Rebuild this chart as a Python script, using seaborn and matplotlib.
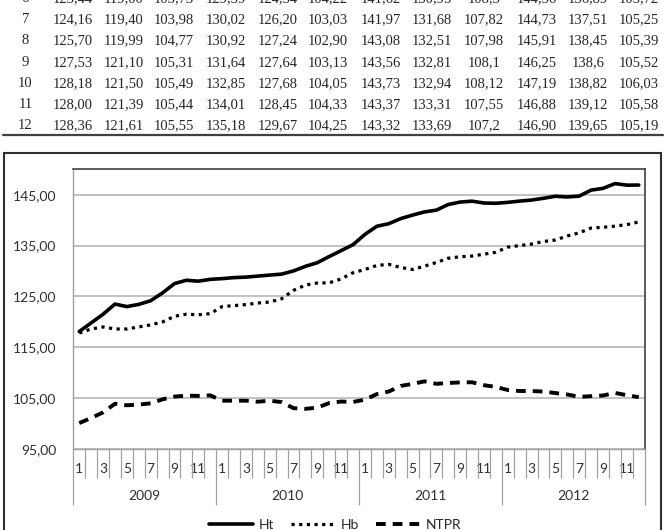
import numpy as np
import pandas as pd
import seaborn as sns
import matplotlib.pyplot as plt
from matplotlib.patches import Rectangle

# data (months 1-5, 6-12 from the table)
years = [2009, 2010, 2011, 2012]
months = list(range(1, 13))

ht_2009 = [118.1, 119.8, 121.5, 123.5, 123.0, 123.44, 124.16, 125.70, 127.53, 128.18, 128.00, 128.36]
hb_2009 = [117.8, 118.6, 119.0, 118.6, 118.6, 119.00, 119.40, 119.99, 121.10, 121.50, 121.39, 121.61]
ntpr_2009 = [100.1, 101.1, 102.2, 103.9, 103.6, 103.73, 103.98, 104.77, 105.31, 105.49, 105.44, 105.55]

ht_2010 = [128.5, 128.7, 128.8, 129.0, 129.2, 129.39, 130.02, 130.92, 131.64, 132.85, 134.01, 135.18]
hb_2010 = [123.0, 123.2, 123.4, 123.7, 123.9, 124.54, 126.20, 127.24, 127.64, 127.68, 128.45, 129.67]
ntpr_2010 = [104.5, 104.5, 104.5, 104.3, 104.5, 104.22, 103.03, 102.90, 103.13, 104.05, 104.33, 104.25]

ht_2011 = [137.2, 138.8, 139.3, 140.3, 141.0, 141.62, 141.97, 143.08, 143.56, 143.73, 143.37, 143.32]
hb_2011 = [130.3, 131.1, 131.3, 130.7, 130.3, 130.95, 131.68, 132.51, 132.81, 132.94, 133.31, 133.69]
ntpr_2011 = [104.7, 105.8, 106.3, 107.4, 107.8, 108.3, 107.82, 107.98, 108.1, 108.12, 107.55, 107.2]

ht_2012 = [143.5, 143.75, 143.95, 144.3, 144.7, 144.56, 144.73, 145.91, 146.25, 147.19, 146.88, 146.90]
hb_2012 = [134.7, 135.0, 135.3, 135.8, 136.1, 136.89, 137.51, 138.45, 138.6, 138.82, 139.12, 139.65]
ntpr_2012 = [106.6, 106.4, 106.4, 106.3, 106.0, 105.72, 105.25, 105.39, 105.52, 106.03, 105.58, 105.19]

ht = {2009: ht_2009, 2010: ht_2010, 2011: ht_2011, 2012: ht_2012}
hb = {2009: hb_2009, 2010: hb_2010, 2011: hb_2011, 2012: hb_2012}
ntpr = {2009: ntpr_2009, 2010: ntpr_2010, 2011: ntpr_2011, 2012: ntpr_2012}

# cells printed with a single decimal in the table
one_decimal = {(2011, 'NTPR', 6), (2011, 'NTPR', 9), (2011, 'NTPR', 12), (2012, 'Hb', 9)}

sns.set_theme(style='white')
plt.rcParams['font.family'] = ['Lato', 'DejaVu Sans']

fig = plt.figure(figsize=(6.66, 5.30), dpi=100)
W, H = 666, 530

# ---- table (only the bottom rows are visible) ----
col_x = [73, 124, 174, 226, 278, 328, 381, 432, 484, 537, 588, 639]
row_y = {6: -1.7, 7: 19.3, 8: 41.0, 9: 62.3, 10: 83.3, 11: 104.3, 12: 125.7}
serif = ['Liberation Serif', 'DejaVu Serif']


def fmt(v, key):
    if key in one_decimal:
        return f"{v:.1f}".replace('.', ',')
    return f"{v:.2f}".replace('.', ',')


for m in range(6, 13):
    y = 1 - row_y[m] / H
    fig.text(25.5 / W, y, str(m), ha='center', va='center', fontsize=10.5, family=serif)
    cells = []
    for yr in years:
        cells.append(fmt(ht[yr][m - 1], (yr, 'Ht', m)))
        cells.append(fmt(hb[yr][m - 1], (yr, 'Hb', m)))
        cells.append(fmt(ntpr[yr][m - 1], (yr, 'NTPR', m)))
    for cx, s in zip(col_x, cells):
        fig.text(cx / W, y, s, ha='center', va='center', fontsize=10.5, family=serif)

fig.add_artist(plt.Line2D([3 / W, 663 / W], [1 - 135 / H, 1 - 135 / H],
                          color='#404040', lw=1.6, transform=fig.transFigure))

# ---- chart frame ----
fig.patches.append(Rectangle((4 / W, -0.02), 657 / W, (530 - 153) / H + 0.02,
                             fill=False, edgecolor='#303030', lw=1.5,
                             transform=fig.transFigure, figure=fig))

left, right, top, bottom = 73.3, 644.7, 169.3, 449
ax = fig.add_axes([left / W, 1 - bottom / H, (right - left) / W, (bottom - top) / H])

rows = []
for yr in years:
    for i, m in enumerate(months):
        rows.append({'t': (yr - 2009) * 12 + i, 'Ht': ht[yr][i], 'Hb': hb[yr][i], 'NTPR': ntpr[yr][i]})
df = pd.DataFrame(rows)

sns.lineplot(data=df, x='t', y='Ht', ax=ax, color='black', lw=2.6, label='Ht')
sns.lineplot(data=df, x='t', y='Hb', ax=ax, color='black', lw=2.3,
             linestyle=(0, (1, 1.4)), label='Hb')
sns.lineplot(data=df, x='t', y='NTPR', ax=ax, color='black', lw=2.8,
             linestyle=(0, (2.5, 1.8)), label='NTPR')
handles = ax.get_lines()[:3]
ax.get_legend().remove()

ax.set_ylim(95, 150)
ax.set_yticks([95, 105, 115, 125, 135, 145])
ax.set_yticklabels([f"{v:.2f}".replace('.', ',') for v in [95, 105, 115, 125, 135, 145]])
ax.yaxis.grid(True, color='#bdbdbd', lw=1.3)
ax.set_xlim(-0.5, 47.5)
ax.set_xlabel('')
ax.set_ylabel('')

ax.set_xticks(range(48))
ax.set_xticklabels([str(m) if m % 2 == 1 else '' for m in months * 4])
ax.tick_params(axis='x', length=0, pad=10, labelsize=10, colors='#303030')
ax.tick_params(axis='y', length=0, pad=12, labelsize=10, colors='#303030')

for side in ['top', 'right']:
    ax.spines[side].set_color('#404040')
    ax.spines[side].set_linewidth(1.2)
for side in ['left', 'bottom']:
    ax.spines[side].set_color('#a0a0a0')
    ax.spines[side].set_linewidth(1.0)

# category separators below the axis
trans = ax.get_xaxis_transform()
month_b = [i + 0.5 for i in range(47) if (i + 1) % 12 != 0]
year_b = [-0.5, 11.5, 23.5, 35.5, 47.5]
ax.vlines(month_b, -0.104, 0, transform=trans, clip_on=False, color='#a0a0a0', lw=0.9)
ax.vlines(year_b, -0.2, 0, transform=trans, clip_on=False, color='#a0a0a0', lw=0.9)
for k, yr in enumerate(years):
    ax.text(k * 12 + 5.5, -0.168, str(yr), transform=trans, ha='center', va='center',
            fontsize=10, color='#303030')

fig.legend(handles=handles, labels=['Ht', 'Hb', 'NTPR'], loc='center',
           bbox_to_anchor=(0.503, 0.009), ncol=3, frameon=False, fontsize=10,
           handlelength=3.2, columnspacing=1.2, handletextpad=0.4)

fig.savefig('out.png', dpi=100)
